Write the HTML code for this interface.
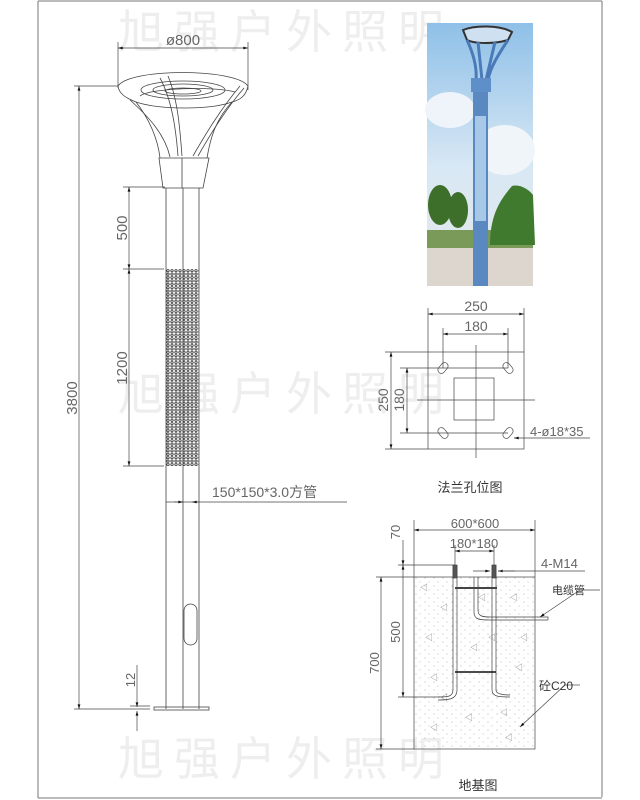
<!DOCTYPE html>
<html><head><meta charset="utf-8"><style>
html,body{margin:0;padding:0;background:#fff;}
svg{display:block;}
text{font-family:"Liberation Sans","Noto Sans CJK SC",sans-serif;}
</style></head><body>
<svg width="640" height="800" viewBox="0 0 640 800" xmlns="http://www.w3.org/2000/svg">
<defs>
<pattern id="perf" x="166" y="269" width="4" height="3.4" patternUnits="userSpaceOnUse">
<ellipse cx="2" cy="1.7" rx="1.2" ry="1.1" fill="none" stroke="#222" stroke-width="0.8"/>
</pattern>
<pattern id="conc" x="0" y="0" width="9" height="8" patternUnits="userSpaceOnUse">
<circle cx="2" cy="2" r="0.5" fill="#999"/><circle cx="6" cy="6" r="0.5" fill="#aaa"/>
</pattern>
<marker id="ar" viewBox="0 0 10 6" refX="10" refY="3" markerWidth="7" markerHeight="4" orient="auto-start-reverse"><path d="M0,0L10,3L0,6Z" fill="#111"/></marker>
</defs>
<rect width="640" height="800" fill="#fff"/>
<g fill="#eeeeee" font-size="46">
<text x="118" y="48" letter-spacing="10">旭强户外照明</text>
<text x="118" y="410" letter-spacing="10">旭强户外照明</text>
<text x="118" y="775" letter-spacing="10">旭强户外照明</text>
</g>
<g stroke="#777" stroke-width="1" fill="none">
<line x1="38" y1="1" x2="602" y2="1"/>
<line x1="602" y1="1" x2="602" y2="797"/>
<line x1="38" y1="798" x2="602" y2="798"/>
<line x1="38" y1="1" x2="38" y2="798"/>
</g>
<g stroke="#444" stroke-width="0.8" fill="none">
<line x1="166" y1="188" x2="166" y2="709"/>
<line x1="183" y1="188" x2="183" y2="709"/>
<line x1="199" y1="188" x2="199" y2="709"/>
<rect x="166" y="269" width="33" height="197" fill="url(#perf)" stroke="none"/>
<rect x="184" y="604" width="13" height="41" rx="6.5"/>
<rect x="154" y="707" width="55" height="3"/>
<path d="M159,158 L209,158 L203,188 L163,188 Z"/>
<line x1="182" y1="158" x2="182" y2="188"/>
<path d="M118,86 C130,68 235,68 248,86 C246,96 240,100 232,102 C210,110 160,110 136,102 C126,98 119,94 118,86Z"/>
<path d="M136,102 C150,120 158,140 160,158"/>
<path d="M232,102 C215,120 210,140 207,158"/>
<path d="M140,96 C150,88 215,86 235,92"/>
<ellipse cx="183" cy="90" rx="42" ry="9"/>
<ellipse cx="183" cy="90" rx="30" ry="6"/>
<ellipse cx="183" cy="91" rx="18" ry="3"/>
<path d="M160,78 C172,100 176,130 178,156"/>
<path d="M168,76 C178,100 180,130 182,156"/>
<path d="M244,88 C225,110 210,135 198,156"/>
<path d="M240,86 C220,110 205,135 193,156"/>
<path d="M130,100 C150,118 165,135 170,157"/>
</g>
<g stroke="#444" stroke-width="0.7" fill="none">
<line x1="118" y1="42" x2="118" y2="88"/>
<line x1="248" y1="42" x2="248" y2="90"/>
<line x1="118" y1="48" x2="248" y2="48" marker-start="url(#ar)" marker-end="url(#ar)"/>
<line x1="74" y1="86" x2="118" y2="86"/>
<line x1="79" y1="86" x2="79" y2="709" marker-start="url(#ar)" marker-end="url(#ar)"/>
<line x1="74" y1="709" x2="150" y2="709"/>
<line x1="123" y1="187" x2="165" y2="187"/>
<line x1="123" y1="269" x2="164" y2="269"/>
<line x1="123" y1="466" x2="164" y2="466"/>
<line x1="129" y1="187" x2="129" y2="269" marker-start="url(#ar)" marker-end="url(#ar)"/>
<line x1="129" y1="269" x2="129" y2="466" marker-start="url(#ar)" marker-end="url(#ar)"/>
<line x1="137" y1="665" x2="137" y2="707" marker-end="url(#ar)"/>
<line x1="137" y1="731" x2="137" y2="711" marker-end="url(#ar)"/>
<line x1="130" y1="706" x2="150" y2="706"/>
<line x1="166" y1="502" x2="347" y2="502"/>
<line x1="174" y1="502" x2="183" y2="502" marker-end="url(#ar)"/>
<line x1="192" y1="502" x2="199" y2="502" marker-start="url(#ar)"/>
</g>
<g fill="#666" font-size="15">
<text x="183" y="45" text-anchor="middle">ø800</text>
<text transform="translate(77,398) rotate(-90)" text-anchor="middle">3800</text>
<text transform="translate(127,228) rotate(-90)" text-anchor="middle">500</text>
<text transform="translate(127,368) rotate(-90)" text-anchor="middle">1200</text>
<text transform="translate(135,680) rotate(-90)" text-anchor="middle" font-size="13">12</text>
<text x="212" y="497" font-size="14">150*150*3.0方管</text>
</g>
<defs>
<linearGradient id="sky" x1="0" y1="0" x2="0" y2="1">
<stop offset="0" stop-color="#8fc0e8"/><stop offset="0.55" stop-color="#d8e8f4"/><stop offset="1" stop-color="#e6e8ea"/>
</linearGradient>
</defs>
<rect x="427" y="23" width="106" height="263" fill="url(#sky)"/>
<ellipse cx="450" cy="110" rx="25" ry="18" fill="#eef4fa"/>
<ellipse cx="505" cy="150" rx="30" ry="25" fill="#f0f5fa"/>
<rect x="427" y="230" width="106" height="20" fill="#7a9a5a"/>
<rect x="427" y="248" width="106" height="38" fill="#ddd6cf"/>
<g fill="#3d6e2a"><ellipse cx="440" cy="205" rx="12" ry="20"/><ellipse cx="458" cy="210" rx="10" ry="18"/></g>
<path d="M512,186 C500,200 490,215 490,245 L535,245 L533,195 C528,188 518,184 512,186Z" fill="#3f7a2e"/>
<path d="M463,30 C475,25 500,25 512,32 L508,40 C495,44 475,44 467,40Z" fill="#cfe0f0" stroke="#333" stroke-width="2"/>
<path d="M467,40 C474,55 477,68 476,80 M508,40 C498,55 490,68 488,80 M478,42 L482,80 M495,42 L486,80" stroke="#4a7bb8" stroke-width="3" fill="none"/>
<rect x="471" y="78" width="20" height="14" fill="#5e8fc8"/>
<rect x="473" y="92" width="15" height="194" fill="#5a88c0"/>
<rect x="475" y="116" width="11" height="105" fill="#a8c8e8"/>
<g stroke="#444" stroke-width="0.7" fill="none">
<rect x="428" y="352" width="96" height="97"/>
<rect x="454" y="378" width="40" height="42"/>
<line x1="476" y1="345" x2="476" y2="458"/>
<line x1="417" y1="400" x2="535" y2="400"/>
<line x1="443" y1="368" x2="508" y2="368"/>
<line x1="443" y1="433" x2="508" y2="433"/>
<line x1="428" y1="308" x2="428" y2="352"/>
<line x1="524" y1="308" x2="524" y2="352"/>
<line x1="443" y1="328" x2="443" y2="368"/>
<line x1="508" y1="328" x2="508" y2="368"/>
<line x1="428" y1="314" x2="524" y2="314" marker-start="url(#ar)" marker-end="url(#ar)"/>
<line x1="443" y1="334" x2="508" y2="334" marker-start="url(#ar)" marker-end="url(#ar)"/>
<line x1="385" y1="352" x2="428" y2="352"/>
<line x1="385" y1="449" x2="428" y2="449"/>
<line x1="400" y1="368" x2="443" y2="368"/>
<line x1="400" y1="433" x2="443" y2="433"/>
<line x1="391" y1="352" x2="391" y2="449" marker-start="url(#ar)" marker-end="url(#ar)"/>
<line x1="407" y1="368" x2="407" y2="433" marker-start="url(#ar)" marker-end="url(#ar)"/>
<g transform="translate(443,368) rotate(-50)"><rect x="-6" y="-3.5" width="12" height="7" rx="3.5"/></g>
<g transform="translate(508,368) rotate(50)"><rect x="-6" y="-3.5" width="12" height="7" rx="3.5"/></g>
<g transform="translate(443,433) rotate(50)"><rect x="-6" y="-3.5" width="12" height="7" rx="3.5"/></g>
<g transform="translate(508,433) rotate(-50)"><rect x="-6" y="-3.5" width="12" height="7" rx="3.5"/></g>
<line x1="590" y1="438" x2="514" y2="438" marker-end="url(#ar)"/>
</g>
<g fill="#666" font-size="14">
<text x="476" y="311" text-anchor="middle">250</text>
<text x="476" y="331" text-anchor="middle">180</text>
<text transform="translate(388,400) rotate(-90)" text-anchor="middle">250</text>
<text transform="translate(404,400) rotate(-90)" text-anchor="middle">180</text>
<text x="530" y="436" font-size="13">4-ø18*35</text>
</g>
<text x="470" y="492" text-anchor="middle" font-size="13" fill="#333">法兰孔位图</text>
<g stroke="#444" stroke-width="0.7" fill="none">
<rect x="414" y="577" width="121" height="172" fill="url(#conc)"/>
<line x1="414" y1="520" x2="414" y2="577"/>
<line x1="535" y1="520" x2="535" y2="577"/>
<line x1="414" y1="530" x2="535" y2="530" marker-start="url(#ar)" marker-end="url(#ar)"/>
<line x1="455" y1="545" x2="455" y2="565"/>
<line x1="494" y1="545" x2="494" y2="565"/>
<line x1="455" y1="551" x2="494" y2="551" marker-start="url(#ar)" marker-end="url(#ar)"/>
<line x1="398" y1="565" x2="455" y2="565"/>
<line x1="376" y1="577" x2="414" y2="577"/>
<line x1="376" y1="749" x2="414" y2="749"/>
<line x1="398" y1="697" x2="440" y2="697"/>
<line x1="403" y1="540" x2="403" y2="565" marker-end="url(#ar)"/>
<line x1="403" y1="565" x2="403" y2="697" marker-start="url(#ar)" marker-end="url(#ar)"/>
<line x1="381" y1="577" x2="381" y2="749" marker-start="url(#ar)" marker-end="url(#ar)"/>
<line x1="473" y1="571" x2="490" y2="571" marker-end="url(#ar)"/>
<line x1="515" y1="571" x2="498" y2="571" marker-end="url(#ar)"/>
<line x1="498" y1="571" x2="585" y2="571"/>
<path d="M453,565 L453,690 C453,697 447,697 438,697 M457,565 L457,690 C457,700 447,700 438,700"/>
<path d="M492,565 L492,690 C492,697 500,697 510,697 M496,565 L496,690 C496,694 502,695 510,695"/>
<rect x="453" y="565" width="4" height="13" fill="#555"/>
<rect x="492" y="565" width="4" height="13" fill="#555"/>
<line x1="455" y1="588" x2="497" y2="588" stroke-width="2"/>
<line x1="455" y1="672" x2="496" y2="672" stroke-width="1.6" stroke="#111"/>
<path d="M474,577 L474,612 C474,620 480,620 490,620 L548,620 M478,577 L478,610 C478,616 482,617 490,617 L548,617 L548,620"/>
<line x1="580" y1="590" x2="540" y2="617" marker-end="url(#ar)"/>
<line x1="580" y1="590" x2="600" y2="590"/>
<line x1="565" y1="685" x2="520" y2="727" marker-end="url(#ar)"/>
<line x1="565" y1="685" x2="580" y2="685"/>
</g>
<g fill="#777" font-size="8">
<text x="420" y="590">◁</text><text x="440" y="610">◁</text><text x="510" y="600">◁</text><text x="425" y="640">◁</text>
<text x="520" y="640">◁</text><text x="470" y="650">◁</text><text x="430" y="680">◁</text><text x="515" y="670">◁</text>
<text x="465" y="720">◁</text><text x="500" y="715">◁</text><text x="430" y="730">◁</text><text x="440" y="700">◁</text>
<text x="478" y="600">◁</text><text x="488" y="640">◁</text><text x="505" y="740">◁</text>
</g>
<g fill="#666" font-size="13">
<text x="475" y="528" text-anchor="middle">600*600</text>
<text x="474" y="548" text-anchor="middle">180*180</text>
<text transform="translate(400,532) rotate(-90)" text-anchor="middle">70</text>
<text transform="translate(400,632) rotate(-90)" text-anchor="middle">500</text>
<text transform="translate(379,663) rotate(-90)" text-anchor="middle">700</text>
<text x="541" y="568">4-M14</text>
</g>
<text x="552" y="594" font-size="11" fill="#333">电缆管</text>
<text x="539" y="690" font-size="12" fill="#333">砼C20</text>
<text x="478" y="790" text-anchor="middle" font-size="13" fill="#333">地基图</text>
</svg>
</body></html>
